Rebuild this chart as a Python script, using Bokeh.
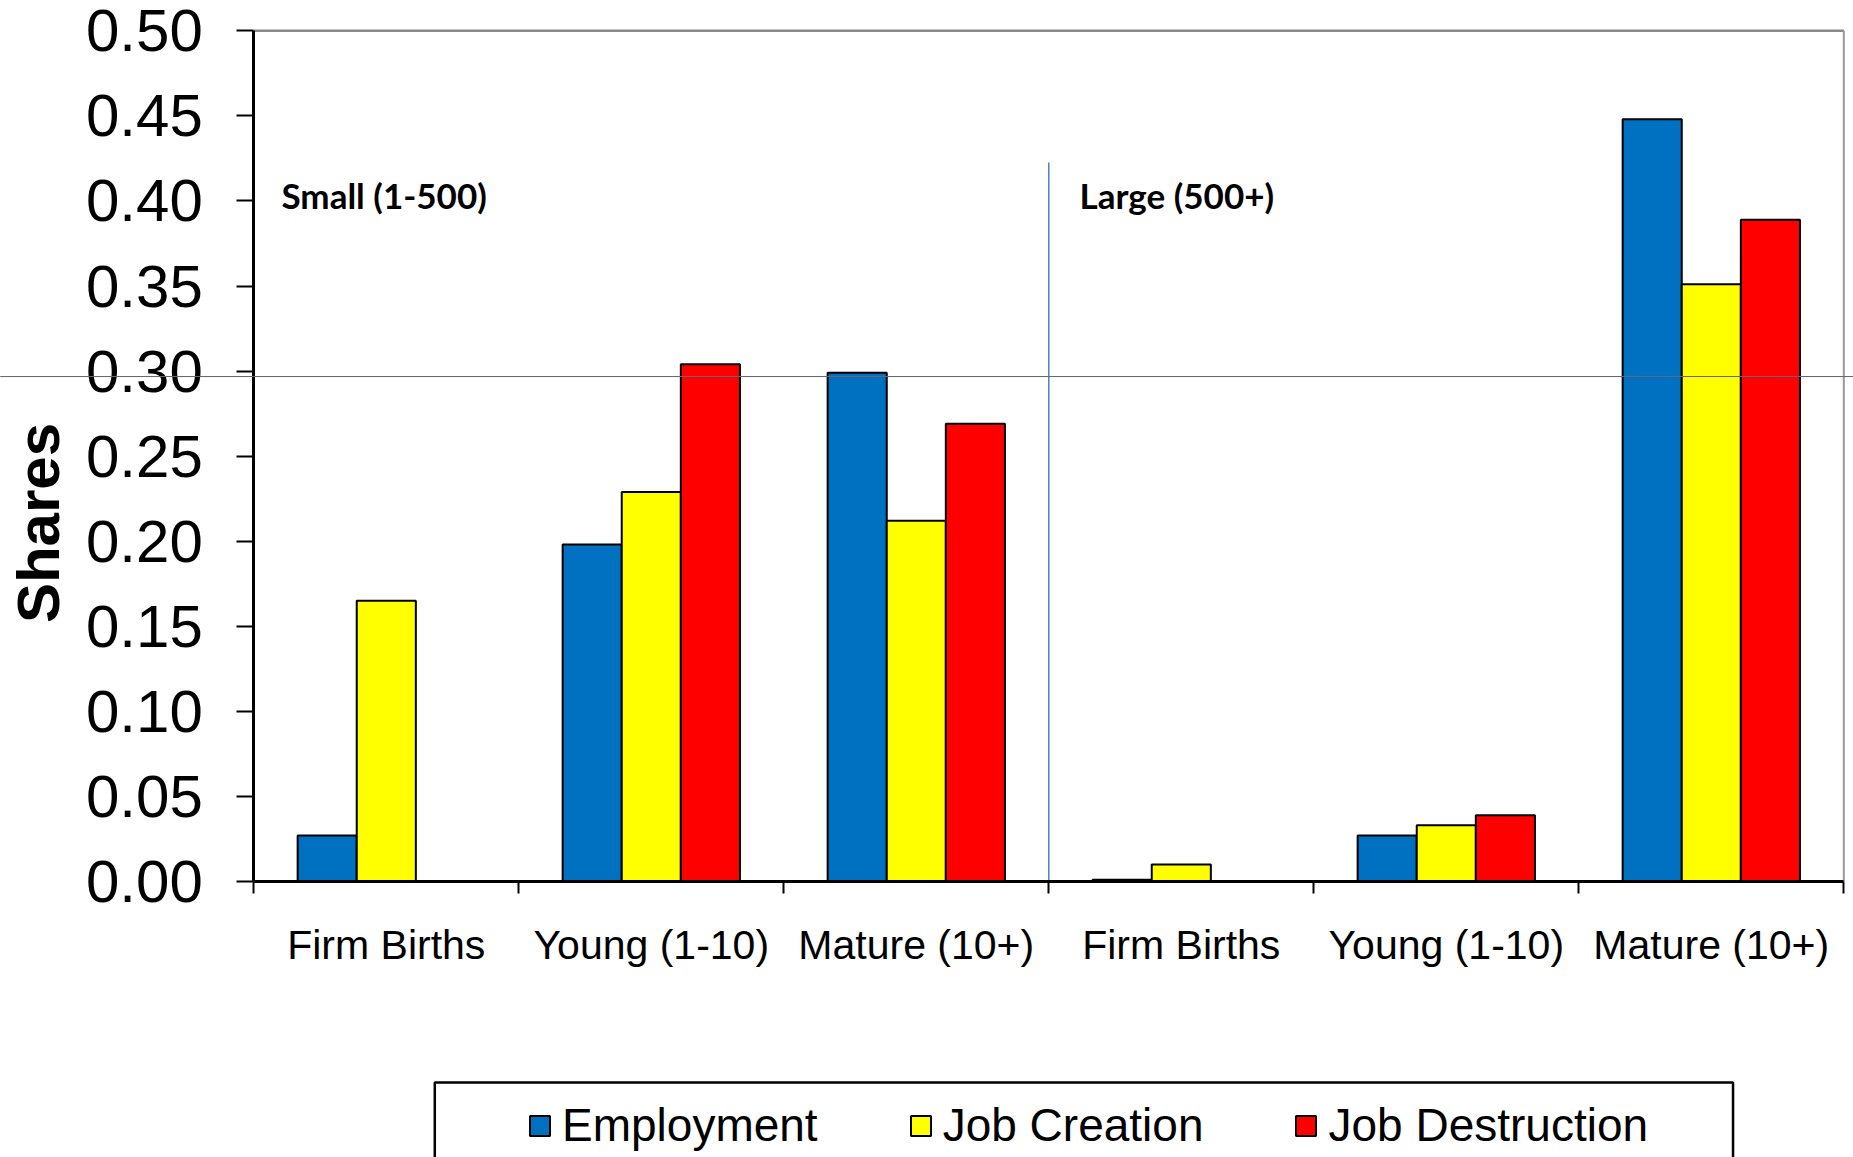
import numpy as np
from bokeh.plotting import figure
from bokeh.models import (Range1d, FixedTicker, NumeralTickFormatter, Legend, LegendItem,
                          Label, BoxAnnotation)
from bokeh.embed import file_html
from bokeh.resources import INLINE

# ---- data ----
categories = ["Firm Births", "Young (1-10)", "Mature (10+)",
              "Firm Births", "Young (1-10)", "Mature (10+)"]
groups = ["Small (1-500)", "Large (500+)"]
employment = [0.027, 0.198, 0.299, 0.001, 0.027, 0.448]
job_creation = [0.165, 0.229, 0.212, 0.010, 0.033, 0.351]
job_destruction = [0.0, 0.304, 0.269, 0.0, 0.039, 0.389]
series_names = ["Employment", "Job Creation", "Job Destruction"]
y_ticks = [0.00, 0.05, 0.10, 0.15, 0.20, 0.25, 0.30, 0.35, 0.40, 0.45, 0.50]
y_title = "Shares"

series_values = [employment, job_creation, job_destruction]
series_colors = ["#0070C0", "#FFFF00", "#FF0000"]

n = len(categories)
centers = np.arange(n) + 0.5
bar_w = 0.223
offsets = [-bar_w, 0.0, bar_w]

W, H = 1853, 1157
# frame spans the whole canvas; axes sit at fixed data locations
p = figure(width=W, height=H, output_backend="svg", toolbar_location=None,
           x_range=Range1d(-0.9558, 6.0366), y_range=Range1d(-0.16222, 0.51781),
           min_border=0, min_border_left=0, min_border_right=0,
           min_border_top=0, min_border_bottom=0)
p.background_fill_color = "white"
p.border_fill_color = "white"
p.outline_line_color = None
p.xgrid.visible = False
p.ygrid.visible = False

renderers = []
for vals, col, off in zip(series_values, series_colors, offsets):
    r = p.vbar(x=centers + off, top=vals, bottom=0, width=bar_w,
               fill_color=col, line_color="black", line_width=2)
    renderers.append(r)

# plot-area border (top and right)
p.segment(x0=[0], y0=[0.5], x1=[n], y1=[0.5], line_color="#888888", line_width=2.5)
p.segment(x0=[n], y0=[0], x1=[n], y1=[0.5], line_color="#999999", line_width=2)

# separator between size groups
p.segment(x0=[3.0], y0=[0.0], x1=[3.0], y1=[0.4226], line_color="#4F81BD", line_width=1.5)

# axes
xa = p.xaxis[0]
xa.fixed_location = 0
xa.bounds = (0, n)
xa.ticker = FixedTicker(ticks=list(centers), minor_ticks=list(range(n + 1)))
xa.major_label_overrides = {float(c): lab for c, lab in zip(centers, categories)}
xa.major_tick_out = 0
xa.major_tick_in = 0
xa.minor_tick_out = 12
xa.minor_tick_in = 0
xa.minor_tick_line_color = "black"
xa.minor_tick_line_width = 2
xa.axis_line_color = "black"
xa.axis_line_width = 3
xa.major_label_text_font = "Liberation Sans"
xa.major_label_text_font_size = "41px"
xa.major_label_text_color = "black"
xa.major_label_standoff = 29

ya = p.yaxis[0]
ya.fixed_location = 0
ya.bounds = (0, 0.5)
ya.ticker = FixedTicker(ticks=y_ticks)
ya.formatter = NumeralTickFormatter(format="0.00")
ya.major_tick_out = 17
ya.major_tick_in = 0
ya.major_tick_line_color = "black"
ya.major_tick_line_width = 2
ya.minor_tick_out = 0
ya.minor_tick_in = 0
ya.axis_line_color = "black"
ya.axis_line_width = 3
ya.major_label_text_font = "Liberation Sans"
ya.major_label_text_font_size = "60px"
ya.major_label_text_color = "black"
ya.major_label_standoff = 34

# y axis title
p.add_layout(Label(x=-0.8125, y=0.2107, text=y_title,
                   angle=np.pi / 2, text_align="center", text_baseline="middle",
                   text_font="Liberation Sans", text_font_style="bold",
                   text_font_size="60px", text_color="black"))

# group labels
for gx, g in zip([0.1045, 3.116], groups):
    p.add_layout(Label(x=gx, y=0.4033, text=g, text_align="left", text_baseline="middle",
                       text_font="Lato", text_font_style="bold", text_font_size="35px",
                       text_color="black"))

# stray horizontal rule across the picture
p.add_layout(BoxAnnotation(left=-1.2, right=6.2, top=0.2968, bottom=0.2968,
                           fill_alpha=0, line_color="#66667f", line_alpha=1.0, line_width=1))

# legend box
p.add_layout(BoxAnnotation(left=0.683, right=5.582, top=-0.1181, bottom=-0.3,
                           fill_alpha=0, line_color="black", line_alpha=1.0, line_width=2.5))

legend = Legend(items=[LegendItem(label=nm, renderers=[r]) for nm, r in zip(series_names, renderers)],
                orientation="horizontal", location=(527, 5), padding=0, margin=0,
                spacing=90, glyph_width=25, glyph_height=25, label_standoff=10,
                label_text_font="Liberation Sans", label_text_font_size="46px",
                label_text_color="black", border_line_alpha=0, background_fill_alpha=0)
p.add_layout(legend, "center")

open("out.html", "w").write(file_html(p, INLINE))
